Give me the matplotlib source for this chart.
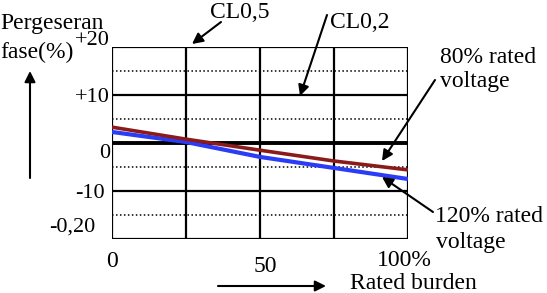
import numpy as np
import matplotlib
matplotlib.use('Agg')
import matplotlib.pyplot as plt

# values
burden = [0, 25, 50, 75, 100]              # % rated burden
shift_80 = [3.3, 0.8, -1.5, -3.75, -5.6]   # 80% rated voltage
shift_120 = [2.3, 0.2, -2.9, -5.2, -7.5]   # 120% rated voltage

ytick_vals = [20, 10, 0, -10, -20]
ytick_text = ['+20', '+10', '0', '-10', '-0,20']
xtick_vals = [0, 50, 100]
xtick_text = ['0', '50', '100%']

W, H = 547, 293
plt.rcParams['font.family'] = ['Liberation Serif', 'DejaVu Serif']

fig = plt.figure(figsize=(W / 100, H / 100), dpi=100)
ax = fig.add_axes([112 / W, 1 - 239 / H, 296 / W, 192 / H])
ax.set_xlim(0, 100)
ax.set_ylim(-20, 20)
ax.axis('off')

def px(x, y):
    # pixel from top-left -> figure pixels
    return (x, H - y)

# grid
for v in [0, 25, 50, 75, 100]:
    ax.axvline(v, color='black', lw=1.6, zorder=1)
for v in [20, 10, -10, -20]:
    ax.axhline(v, color='black', lw=1.6, zorder=1)
ax.axhline(0, color='black', lw=2.8, zorder=1)
for v in [15, 5, -5, -15]:
    ax.axhline(v, color='black', lw=1.1, ls=(0, (1, 1.6)), zorder=1)

ax.plot(burden, shift_120, color='#2a3cf5', lw=3.0, zorder=3, solid_capstyle='butt')
ax.plot(burden, shift_80, color='#8b1a1a', lw=2.6, zorder=3, solid_capstyle='butt')

# tick labels
y_off = [(-2, 2), (-2, -7), (-2, -15), (-7, -7), (-17, 7)]
for v, t, (dx, dy) in zip(ytick_vals, ytick_text, y_off):
    ax.annotate(t, xy=(0, v), xytext=(dx, dy), textcoords='offset pixels',
                ha='right', va='baseline', fontsize=16, annotation_clip=False)
x_off = [(0, -28), (5, -33), (-4, -27)]
for v, t, (dx, dy) in zip(xtick_vals, xtick_text, x_off):
    ax.annotate(t, xy=(v, -20), xytext=(dx, dy), textcoords='offset pixels',
                ha='center', va='baseline', fontsize=17, annotation_clip=False)

def label(x, y, s, ha='left'):
    fig.text(x / W, 1 - y / H, s, ha=ha, va='baseline', fontsize=17)

label(0, 29, 'Pergeseran')
label(0, 58, 'fase(%)')
label(240, 18, 'CL0,5', ha='center')
label(330, 28, 'CL0,2')
label(440, 63, '80% rated')
label(440, 87, 'voltage')
label(435, 222, '120% rated')
label(436, 248, 'voltage')
label(350, 289, 'Rated burden')

def arrow(x0, y0, x1, y1):
    fig.add_artist(matplotlib.patches.FancyArrowPatch(
        px(x0, y0), px(x1, y1), transform=None, arrowstyle='-|>',
        mutation_scale=16, lw=1.5, color='black', shrinkA=0, shrinkB=0))

arrow(30, 178, 30, 71)      # y axis arrow
arrow(218, 286, 326, 286)   # x axis arrow
arrow(221, 22, 192, 44)     # CL0,5
arrow(327, 15, 300, 96)     # CL0,2
arrow(435, 80, 382, 161)    # 80%
arrow(433, 212, 382, 177)   # 120%

fig.savefig('out.png', dpi=100)
